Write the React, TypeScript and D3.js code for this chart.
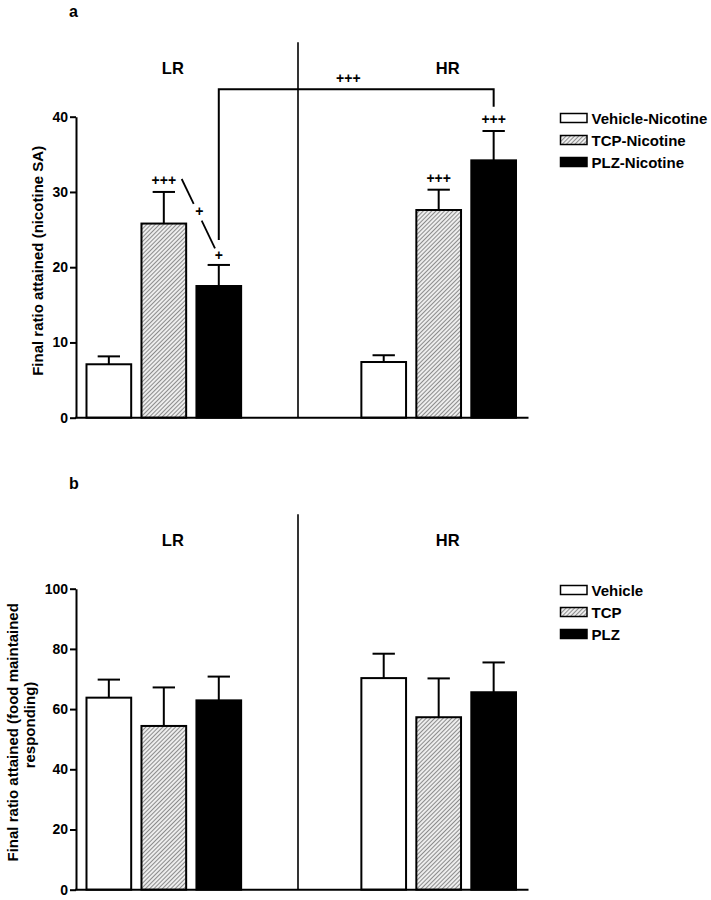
import React, { useEffect, useRef } from "react";
import * as d3 from "d3";

// ---------- data ----------
const groups = ["LR", "HR"];
const seriesA = ["Vehicle-Nicotine", "TCP-Nicotine", "PLZ-Nicotine"];
const meanA_LR = [7.1, 25.8, 17.5];
const errA_LR = [1.05, 4.2, 2.8];
const meanA_HR = [7.4, 27.6, 34.2];
const errA_HR = [0.9, 2.7, 3.9];
const ticksA = [0, 10, 20, 30, 40];

const seriesB = ["Vehicle", "TCP", "PLZ"];
const meanB_LR = [63.8, 54.4, 62.9];
const errB_LR = [6.0, 12.8, 7.9];
const meanB_HR = [70.3, 57.3, 65.6];
const errB_HR = [8.1, 12.9, 9.9];
const ticksB = [0, 20, 40, 60, 80, 100];

const titleA = ["Final ratio attained (nicotine SA)"];
const titleB = ["Final ratio attained (food maintained", "responding)"];

// significance marks for panel a: [group, seriesIndex, text]
const sigA: [string, number, string][] = [
  ["LR", 1, "+++"],
  ["LR", 2, "+"],
  ["HR", 1, "+++"],
  ["HR", 2, "+++"],
];

const FONT = "'Liberation Sans', Arial, Helvetica, sans-serif";
const fills = ["#ffffff", "url(#hatch)", "#000000"];

const slots = ["LR-0", "LR-1", "LR-2", "g1", "g2", "HR-0", "HR-1", "HR-2"];

export default function App() {
  const ref = useRef<SVGSVGElement | null>(null);

  useEffect(() => {
    const svg = d3.select(ref.current);
    svg.selectAll("*").remove();

    const defs = svg.append("defs");
    const pat = defs
      .append("pattern")
      .attr("id", "hatch")
      .attr("patternUnits", "userSpaceOnUse")
      .attr("width", 3)
      .attr("height", 3)
      .attr("patternTransform", "rotate(45)");
    pat.append("rect").attr("width", 3).attr("height", 3).attr("fill", "#ffffff");
    pat
      .append("line")
      .attr("x1", 1.5)
      .attr("y1", 0)
      .attr("x2", 1.5)
      .attr("y2", 3)
      .attr("stroke", "#8c8c8c")
      .attr("stroke-width", 1.3);

    const x = d3
      .scaleBand<string>()
      .domain(slots)
      .range([75.5, 527])
      .paddingInner(0.187)
      .paddingOuter(0.2);
    const bw = x.bandwidth();
    const cx = (g: string, i: number) => (x(`${g}-${i}`) as number) + bw / 2;

    const drawPanel = (
      offY: number,
      letter: string,
      maxV: number,
      ticks: number[],
      series: string[],
      means: number[][],
      errs: number[][],
      title: string[],
      titlePos: [number, number][]
    ) => {
      const g = svg.append("g").attr("transform", `translate(0,${offY})`);
      const y = d3.scaleLinear().domain([0, maxV]).range([417.7, 116.7]);

      g.append("text")
        .attr("x", 69)
        .attr("y", 16.5)
        .attr("font-family", FONT)
        .attr("font-weight", "bold")
        .attr("font-size", 16)
        .text(letter);

      // divider
      g.append("line")
        .attr("x1", 298)
        .attr("x2", 298)
        .attr("y1", 42.3)
        .attr("y2", y(0))
        .attr("stroke", "#000")
        .attr("stroke-width", 1.6);

      // group labels
      groups.forEach((grp) => {
        g.append("text")
          .attr("x", cx(grp, 1) + 9)
          .attr("y", 73.5)
          .attr("text-anchor", "middle")
          .attr("font-family", FONT)
          .attr("font-weight", "bold")
          .attr("font-size", 16.5)
          .text(grp);
      });

      // bars
      groups.forEach((grp, gi) => {
        series.forEach((_, si) => {
          const v = means[gi][si];
          const e = errs[gi][si];
          const bx = x(`${grp}-${si}`) as number;
          const c = bx + bw / 2;
          g.append("line")
            .attr("x1", c)
            .attr("x2", c)
            .attr("y1", y(v))
            .attr("y2", y(v + e))
            .attr("stroke", "#000")
            .attr("stroke-width", 2);
          g.append("line")
            .attr("x1", c - bw / 4)
            .attr("x2", c + bw / 4)
            .attr("y1", y(v + e))
            .attr("y2", y(v + e))
            .attr("stroke", "#000")
            .attr("stroke-width", 2);
          g.append("rect")
            .attr("x", bx)
            .attr("y", y(v))
            .attr("width", bw)
            .attr("height", y(0) - y(v))
            .attr("fill", fills[si])
            .attr("stroke", "#000")
            .attr("stroke-width", 2);
        });
      });

      // y axis
      const ax = g
        .append("g")
        .attr("transform", `translate(76,0)`)
        .call(
          d3
            .axisLeft(y)
            .tickValues(ticks)
            .tickSize(6)
            .tickSizeOuter(0)
            .tickPadding(2)
            .tickFormat(d3.format("d"))
        );
      ax.select(".domain").attr("stroke-width", 2);
      ax.selectAll(".tick line").attr("stroke-width", 2);
      ax.selectAll(".tick text")
        .attr("font-family", FONT)
        .attr("font-weight", "bold")
        .attr("font-size", 14)
        .attr("fill", "#000");

      // x axis line
      g.append("line")
        .attr("x1", 75)
        .attr("x2", 528.5)
        .attr("y1", y(0))
        .attr("y2", y(0))
        .attr("stroke", "#000")
        .attr("stroke-width", 2);

      // axis title
      title.forEach((t, i) => {
        g.append("text")
          .attr("transform", `translate(${titlePos[i][0]},${titlePos[i][1]}) rotate(-90)`)
          .attr("text-anchor", "middle")
          .attr("font-family", FONT)
          .attr("font-weight", "bold")
          .attr("font-size", 15)
          .text(t);
      });

      // legend
      series.forEach((s, si) => {
        const ry = 118 + si * 22;
        g.append("rect")
          .attr("x", 560.5)
          .attr("y", ry - 4.5)
          .attr("width", 26.5)
          .attr("height", 9)
          .attr("fill", fills[si])
          .attr("stroke", "#000")
          .attr("stroke-width", 1.5);
        g.append("text")
          .attr("x", 591.5)
          .attr("y", ry + 5.5)
          .attr("font-family", FONT)
          .attr("font-weight", "bold")
          .attr("font-size", 15)
          .text(s);
      });

      return y;
    };

    const yA = drawPanel(
      0,
      "a",
      40,
      ticksA,
      seriesA,
      [meanA_LR, meanA_HR],
      [errA_LR, errA_HR],
      titleA,
      [[42.5, 260.8]]
    );

    drawPanel(
      472,
      "b",
      100,
      ticksB,
      seriesB,
      [meanB_LR, meanB_HR],
      [errB_LR, errB_HR],
      titleB,
      [
        [17.5, 260.3],
        [35, 253],
      ]
    );

    // ---------- panel a annotations ----------
    const ga = svg.append("g");
    const meansA = { LR: meanA_LR, HR: meanA_HR } as Record<string, number[]>;
    const errsA = { LR: errA_LR, HR: errA_HR } as Record<string, number[]>;
    sigA.forEach(([grp, si, t]) => {
      const top = yA(meansA[grp][si] + errsA[grp][si]);
      ga.append("text")
        .attr("x", cx(grp, si))
        .attr("y", top - (t === "+" ? 4.5 : 7))
        .attr("text-anchor", "middle")
        .attr("font-family", FONT)
        .attr("font-weight", "bold")
        .attr("font-size", 14)
        .text(t);
    });

    // bracket between LR PLZ and HR PLZ
    const lx = cx("LR", 2);
    const rx = cx("HR", 2);
    const hy = 89.3;
    ga.append("path")
      .attr("d", `M${lx},240 L${lx},${hy} L${rx},${hy} L${rx},106.7`)
      .attr("fill", "none")
      .attr("stroke", "#000")
      .attr("stroke-width", 2);
    ga.append("text")
      .attr("x", 348.3)
      .attr("y", 83.3)
      .attr("text-anchor", "middle")
      .attr("font-family", FONT)
      .attr("font-weight", "bold")
      .attr("font-size", 14)
      .text("+++");

    // diagonal comparison line TCP-LR vs PLZ-LR, broken by "+"
    const ax0 = 181.7, ay0 = 179, ax1 = 215, ay1 = 248.3;
    const pt = (t: number) => [ax0 + (ax1 - ax0) * t, ay0 + (ay1 - ay0) * t];
    const [p1x, p1y] = pt(0.36);
    const [p2x, p2y] = pt(0.6);
    ga.append("line")
      .attr("x1", ax0).attr("y1", ay0).attr("x2", p1x).attr("y2", p1y)
      .attr("stroke", "#000").attr("stroke-width", 1.8);
    ga.append("line")
      .attr("x1", p2x).attr("y1", p2y).attr("x2", ax1).attr("y2", ay1)
      .attr("stroke", "#000").attr("stroke-width", 1.8);
    ga.append("text")
      .attr("x", 199.3)
      .attr("y", 215.5)
      .attr("text-anchor", "middle")
      .attr("font-family", FONT)
      .attr("font-weight", "bold")
      .attr("font-size", 14)
      .text("+");
  }, []);

  return (
    <svg
      ref={ref}
      width={711}
      height={900}
      style={{ position: "absolute", left: 0, top: 0, background: "#fff" }}
    />
  );
}
